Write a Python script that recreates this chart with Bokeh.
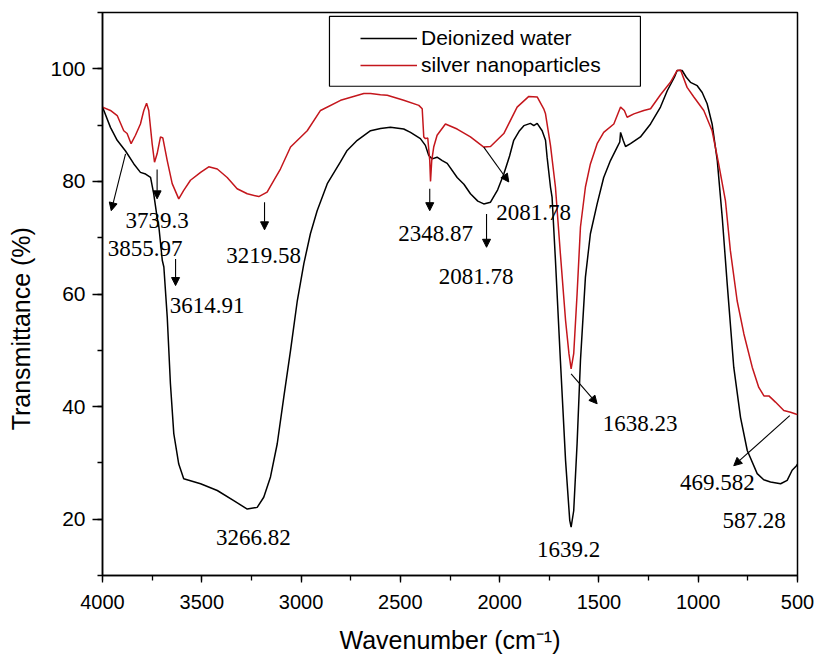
from bokeh.plotting import figure
from bokeh.models import (Range1d, SingleIntervalTicker, Label, Arrow, NormalHead,
                          Legend, LegendItem, ColumnDataSource)
from bokeh.embed import file_html
from bokeh.resources import INLINE

# ---------------- data ----------------
water_x = [4000, 3960, 3926, 3884, 3842, 3809, 3783, 3758, 3742, 3725, 3716, 3699, 3691,
           3674, 3658, 3641, 3616, 3591, 3506, 3422, 3339, 3271, 3221, 3188, 3154, 3120,
           3087, 3053, 3019, 2986, 2953, 2919, 2868, 2801, 2768, 2717, 2650, 2600, 2550,
           2483, 2449, 2399, 2374, 2357, 2340, 2315, 2289, 2264, 2214, 2180, 2147, 2110,
           2080, 2046, 2010, 1979, 1950, 1929, 1900, 1878, 1845, 1828, 1811, 1786, 1769,
           1761, 1744, 1736, 1719, 1694, 1668, 1647, 1640, 1627, 1610, 1593, 1568, 1543,
           1509, 1476, 1442, 1408, 1395, 1391, 1378, 1366, 1341, 1291, 1240, 1190, 1156,
           1120, 1106, 1081, 1060, 1039, 1005, 980, 955, 930, 904, 879, 854, 821, 787,
           753, 703, 670, 636, 585, 552, 527, 505, 500]
water_y = [93.2, 89.6, 87.3, 85.4, 83.1, 81.6, 81.3, 80.7, 77.8, 73.6, 71.9, 66.0, 64.8,
           55.9, 44.1, 35.2, 29.8, 27.2, 26.3, 25.1, 23.3, 21.8, 22.1, 23.9, 27.5, 33.4,
           41.7, 50.0, 58.8, 65.4, 70.7, 74.8, 79.6, 83.5, 85.5, 87.3, 89.0, 89.4, 89.6,
           89.3, 88.7, 87.6, 86.4, 84.6, 84.0, 84.3, 83.7, 83.2, 80.7, 79.5, 77.8, 76.5,
           76.0, 76.3, 78.5, 81.3, 84.5, 87.3, 89.0, 89.9, 90.3, 89.9, 90.3, 89.0, 87.3,
           84.3, 79.0, 77.2, 66.0, 48.2, 30.4, 19.8, 18.6, 21.5, 33.4, 48.2, 63.0, 70.7,
           76.0, 80.7, 83.7, 86.1, 87.0, 88.7, 87.3, 86.2, 86.7, 87.9, 90.2, 93.2, 96.1,
           98.5, 99.7, 99.7, 98.5, 97.6, 97.0, 95.8, 93.8, 90.2, 83.7, 73.6, 61.8, 47.0,
           38.1, 32.2, 28.1, 27.0, 26.6, 26.3, 26.9, 28.7, 29.5, 29.8]

silver_x = [4000, 3960, 3926, 3893, 3876, 3856, 3834, 3809, 3792, 3778, 3767, 3750, 3738,
            3725, 3708, 3696, 3674, 3649, 3616, 3591, 3557, 3506, 3465, 3422, 3372, 3322,
            3271, 3213, 3171, 3137, 3104, 3053, 2969, 2902, 2801, 2684, 2650, 2600, 2566,
            2483, 2407, 2390, 2382, 2374, 2362, 2352, 2348, 2342, 2332, 2315, 2273, 2214,
            2147, 2080, 2046, 1979, 1912, 1853, 1811, 1778, 1769, 1744, 1719, 1694, 1668,
            1651, 1640, 1627, 1610, 1593, 1568, 1543, 1509, 1476, 1425, 1391, 1372, 1358,
            1324, 1274, 1240, 1190, 1140, 1106, 1089, 1056, 1022, 972, 930, 897, 863, 838,
            804, 770, 728, 695, 669, 644, 611, 569, 535, 509, 500]
silver_y = [93.2, 92.6, 91.7, 89.0, 88.5, 86.7, 88.2, 90.2, 92.6, 93.9, 92.6, 86.7, 83.4,
            84.9, 87.9, 87.7, 83.7, 79.6, 76.9, 78.4, 80.2, 81.6, 82.6, 82.2, 80.7, 78.7,
            77.8, 77.3, 78.1, 80.2, 82.2, 86.1, 89.0, 92.6, 94.4, 95.6, 95.6, 95.4, 95.3,
            94.4, 93.5, 92.9, 87.9, 87.6, 87.7, 83.7, 80.0, 83.7, 86.1, 88.2, 90.2, 89.3,
            87.9, 86.1, 86.2, 88.5, 93.2, 95.1, 95.0, 92.9, 92.0, 86.4, 79.0, 67.1, 55.3,
            49.4, 46.7, 49.4, 60.0, 71.9, 79.0, 83.1, 86.7, 88.7, 90.2, 93.2, 92.6, 91.4,
            92.0, 92.6, 92.9, 95.4, 97.6, 99.7, 99.8, 96.7, 95.0, 92.6, 89.0, 83.1, 76.6, 67.7,
            58.8, 52.9, 47.0, 43.4, 41.9, 41.9, 40.8, 39.3, 39.0, 38.7, 38.6]

series_names = ["Deionized water", "silver nanoparticles"]
x_title = "Wavenumber (cm\u207b\u00b9)"
y_title = "Transmittance (%)"

# peak annotations: text, text position (wavenumber, %T)
peak_text = ["3855.97", "3739.3", "3614.91", "3219.58", "3266.82", "2348.87",
             "2081.78", "2081.78", "1639.2", "1638.23", "469.582", "587.28"]
peak_text_x = [3785, 3725, 3473, 3188, 3240, 2323, 1829, 2118, 1653, 1293, 903, 719]
peak_text_y = [68.0, 73.1, 58.0, 66.8, 16.8, 70.7, 74.5, 63.1, 14.7, 37.05, 26.6, 19.8]

# arrows: start (x, y) -> end (x, y)
arrow_x0 = [3884, 3725, 3632, 3184, 2352, 2080, 2066, 1640, 539]
arrow_y0 = [84.9, 82.1, 66.2, 76.3, 78.7, 86.1, 74.2, 45.8, 38.4]
arrow_x1 = [3956, 3725, 3632, 3184, 2352, 1954, 2066, 1509, 821]
arrow_y1 = [74.8, 76.9, 61.5, 71.4, 74.8, 79.9, 68.3, 40.5, 29.5]

# legend box extent (wavenumber / %T)
legend_box = dict(left=[2857], right=[1291], top=[109.3], bottom=[96.9])

# ---------------- figure ----------------
BLACK = "#000000"
RED = "#c4161c"

p = figure(frame_width=695, frame_height=563, output_backend="svg", toolbar_location=None,
           x_range=Range1d(4000, 500), y_range=Range1d(10, 110),
           min_border_left=102, min_border_right=19, min_border_top=12, min_border_bottom=80,
           background_fill_color="white", border_fill_color="white")
p.xgrid.visible = False
p.ygrid.visible = False
p.outline_line_color = "black"
p.outline_line_width = 1.5
p.outline_line_alpha = 1

p.xaxis.ticker = SingleIntervalTicker(interval=500, num_minor_ticks=2)
p.yaxis.ticker = SingleIntervalTicker(interval=20, num_minor_ticks=2)
for ax in (p.xaxis[0], p.yaxis[0]):
    ax.axis_line_width = 1.5
    ax.axis_line_color = "black"
    ax.major_tick_line_width = 1.3
    ax.minor_tick_line_width = 1.3
    ax.major_tick_in = 0
    ax.minor_tick_in = 0
    ax.major_label_text_color = "black"
    ax.major_label_text_font = "Liberation Sans"
    ax.axis_label_text_font = "Liberation Sans"
    ax.axis_label_text_font_size = "25px"
    ax.axis_label_text_font_style = "normal"
    ax.axis_label_text_color = "black"
p.xaxis.major_tick_out = 7
p.xaxis.minor_tick_out = 5
p.yaxis.major_tick_out = 10
p.yaxis.minor_tick_out = 5
p.xaxis.major_label_text_font_size = "20px"
p.yaxis.major_label_text_font_size = "21px"
p.xaxis.major_label_standoff = 12
p.yaxis.major_label_standoff = 7

p.xaxis.axis_label = x_title
p.xaxis.axis_label_standoff = 14
# trailing no-break spaces shift the rotated title toward the bottom, as in the original
p.yaxis.axis_label = y_title + "\u00a0" * 10
p.yaxis.axis_label_standoff = 12

# legend box
p.quad(source=ColumnDataSource(legend_box), left="left", right="right", top="top",
       bottom="bottom", fill_color="white", line_color="black", line_width=1.2)

r_water = p.line(water_x, water_y, line_color=BLACK, line_width=1.5)
r_silver = p.line(silver_x, silver_y, line_color=RED, line_width=1.5)

legend = Legend(items=[LegendItem(label=series_names[0], renderers=[r_water]),
                       LegendItem(label=series_names[1], renderers=[r_silver])],
                location=(252, 492), margin=0, padding=6, spacing=3,
                glyph_width=57, glyph_height=24, label_height=24, label_standoff=4,
                label_text_font="Liberation Sans", label_text_font_size="21px",
                label_text_color="black", border_line_alpha=0,
                background_fill_alpha=0)
p.add_layout(legend)

for t, tx, ty in zip(peak_text, peak_text_x, peak_text_y):
    p.add_layout(Label(x=tx, y=ty, text=t, text_font="Liberation Serif",
                       text_font_size="23px", text_align="center",
                       text_baseline="middle", text_color="black"))

for x0, y0, x1, y1 in zip(arrow_x0, arrow_y0, arrow_x1, arrow_y1):
    p.add_layout(Arrow(x_start=x0, y_start=y0, x_end=x1, y_end=y1,
                       line_color="black", line_width=1.1,
                       end=NormalHead(size=8, fill_color="black", line_color="black",
                                      line_width=1)))

open("out.html", "w").write(file_html(p, INLINE))
